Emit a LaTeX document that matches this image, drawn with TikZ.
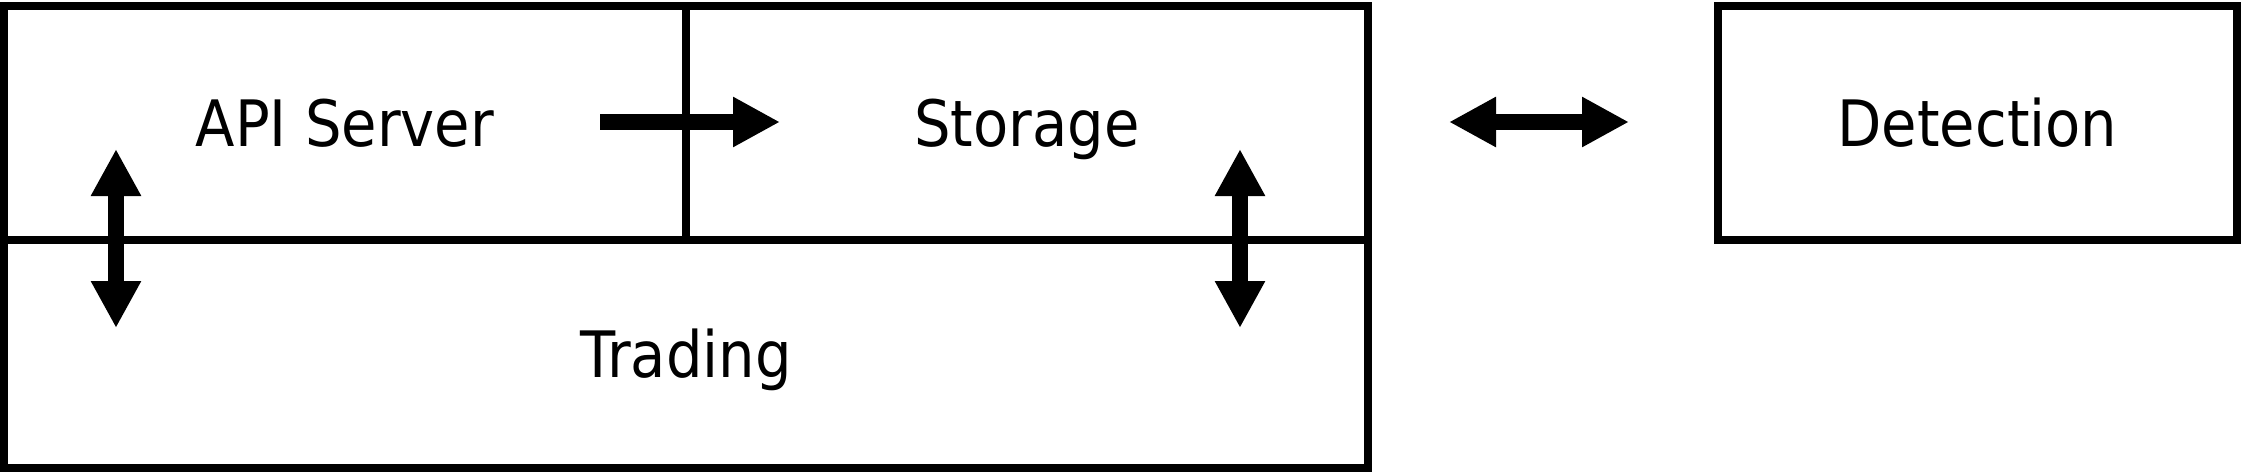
\documentclass[tikz,border=0pt]{standalone}
\usepackage{fontspec}
\setmainfont{DejaVu Sans}[FakeStretch=0.9]
\usetikzlibrary{arrows.meta}
\begin{document}
\begin{tikzpicture}[x=1pt,y=-1pt,
  box/.style={draw=black,line width=8pt,rectangle,inner sep=0pt,text height=47pt,text depth=0pt,font=\fontsize{64}{70}\selectfont},
  bigarrow/.style={line width=16pt,draw=black,-{Triangle[width=47pt,length=47pt]}},
  bigdarrow/.style={line width=16pt,draw=black,{Triangle[width=47pt,length=47pt]}-{Triangle[width=47pt,length=47pt]}}]
\useasboundingbox (0,0) rectangle (2243,474);
\node[box,minimum width=682pt,minimum height=234pt] (api) at (345,123) {API Server};
\node[box,minimum width=682pt,minimum height=234pt] (storage) at (1027,123) {Storage};
\node[box,minimum width=1364pt,minimum height=228pt] (trading) at (686,354) {Trading};
\node[box,minimum width=519pt,minimum height=234pt] (detection) at (1977.5,123) {Detection};
% connector end points
\coordinate (asA) at (600,122);
\coordinate (asB) at (780,122);
\coordinate (sdA) at (1449,122);
\coordinate (sdB) at (1629,122);
\coordinate (atA) at (116,149);
\coordinate (atB) at (116,328);
\coordinate (stA) at (1240,149);
\coordinate (stB) at (1240,328);
\draw[bigarrow] (asA) -- (asB);
\draw[bigdarrow] (sdA) -- (sdB);
\draw[bigdarrow] (atA) -- (atB);
\draw[bigdarrow] (stA) -- (stB);
\end{tikzpicture}
\end{document}
